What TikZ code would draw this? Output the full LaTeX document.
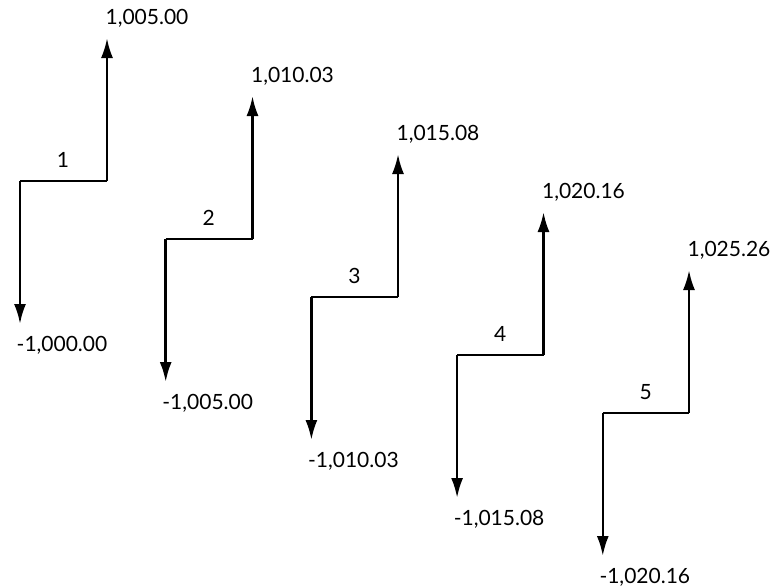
\documentclass[tikz,border=0pt]{standalone}
\usepackage{fontspec}
\setmainfont{Lato}
\usetikzlibrary{arrows.meta}
\begin{document}
\begin{tikzpicture}[x=1pt,y=-1pt,
  flow/.style={line width=2.6pt,-{Latex[length=20pt,width=12pt]}},
  lbl/.style={font=\fontsize{21}{25}\selectfont,inner sep=0pt}]
\useasboundingbox (0,0) rectangle (771,587);
\foreach \i/\top/\bot in {0/{1,005.00}/{-1,000.00},1/{1,010.03}/{-1,005.00},2/{1,015.08}/{-1,010.03},3/{1,020.16}/{-1,015.08},4/{1,025.26}/{-1,020.16}}{
  \pgfmathsetmacro{\xl}{20+145.7*\i}
  \pgfmathsetmacro{\xr}{107+145.5*\i}
  \pgfmathsetmacro{\yh}{181+58*\i}
  \pgfmathtruncatemacro{\n}{\i+1}
  \coordinate (L\n) at (\xl,\yh);
  \coordinate (R\n) at (\xr,\yh);
  \coordinate (T\n) at (\xr,\yh-143);
  \coordinate (B\n) at (\xl,\yh+143);
  \draw[line width=2.6pt] (L\n) -- (R\n);
  \draw[flow] (L\n) -- (B\n);
  \draw[flow] (R\n) -- (T\n);
  \node[lbl] (n\n) at (\xl+43,\yh-21) {\n};
  \node[lbl] (t\n) at (\xr+40,\yh-163) {\top};
  \node[lbl] (b\n) at (\xl+42,\yh+164) {\bot};
}
\end{tikzpicture}
\end{document}
